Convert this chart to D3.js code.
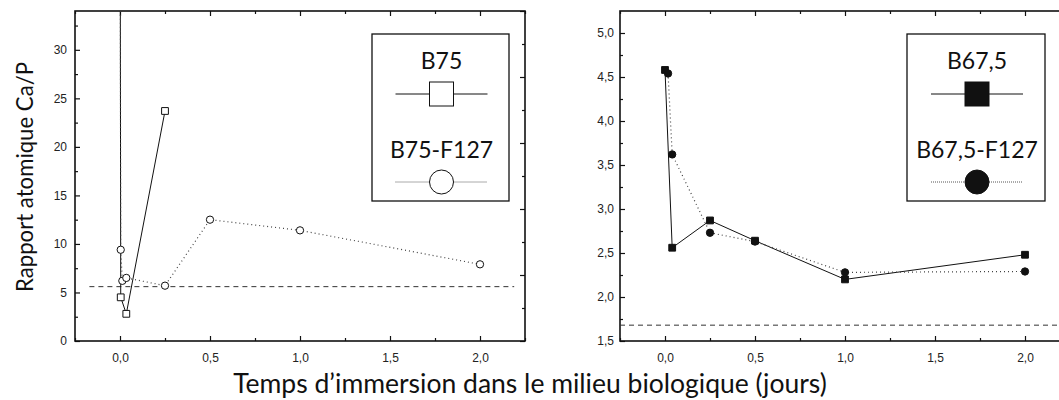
<!DOCTYPE html>
<html>
<head>
<meta charset="utf-8">
<script src="https://cdn.jsdelivr.net/npm/d3@7"></script>
<style>
  body { margin: 0; background: #fff; }
  svg { display: block; }
</style>
</head>
<body>
<svg id="chart" width="1059" height="400"></svg>
<script>
// ---- data (time in days, atomic Ca/P ratio) ----
const xTickValues = [0, 0.5, 1, 1.5, 2];
const xTickLabels = ["0,0", "0,5", "1,0", "1,5", "2,0"];

const leftYTickValues = [0, 5, 10, 15, 20, 25, 30];
const leftYTickLabels = ["0", "5", "10", "15", "20", "25", "30"];
const rightYTickValues = [1.5, 2, 2.5, 3, 3.5, 4, 4.5, 5];
const rightYTickLabels = ["1,5", "2,0", "2,5", "3,0", "3,5", "4,0", "4,5", "5,0"];

// B75 / B75-F127 (the t = 0 values lie far above the axis range)
const b75Time = [0, 0.004, 0.035, 0.25];
const b75Ratio = [60, 4.5, 2.8, 23.7];
const b75f127Time = [0, 0.004, 0.013, 0.035, 0.25, 0.5, 1, 2];
const b75f127Ratio = [60, 9.4, 6.2, 6.5, 5.7, 12.5, 11.4, 7.9];
const leftRefRatio = 5.6;
const leftRefSpan = [-0.17, 2.19];

// B67,5 / B67,5-F127
const b675Time = [0, 0.04, 0.25, 0.5, 1, 2];
const b675Ratio = [4.58, 2.56, 2.87, 2.64, 2.2, 2.48];
const b675f127Time = [0.017, 0.04, 0.25, 0.5, 1, 2];
const b675f127Ratio = [4.54, 3.62, 2.73, 2.63, 2.28, 2.29];
const rightRefRatio = 1.68;
const rightRefSpan = [-0.25, 2.25];

// ---- drawing ----
const svg = d3.select("#chart");
const INK = "#111";
const TICK_FONT = "'Liberation Sans', Arial, sans-serif";
const TITLE_FONT = "Lato, 'Open Sans', sans-serif";
const comma = v => v.replace(".", ",");

function zip(xs, ys) { return xs.map((x, i) => ({ x, y: ys[i] })); }

function panel(opts) {
  const x = d3.scaleLinear().domain([-0.25, 2.25]).range(opts.xRange);
  const y = d3.scaleLinear().domain(opts.yDomain).range([341, 11]);
  const g = svg.append("g");
  const clipId = "clip" + opts.id;
  svg.append("defs").append("clipPath").attr("id", clipId)
    .append("rect")
    .attr("x", opts.xRange[0]).attr("y", 11)
    .attr("width", opts.xRange[1] - opts.xRange[0]).attr("height", 330);

  const minorX = d3.range(-0.25, 2.26, 0.25).filter(v => !xTickValues.some(t => Math.abs(t - v) < 1e-6));

  // bottom axis
  const bottom = g.append("g").attr("transform", "translate(0,341)")
    .call(d3.axisBottom(x).tickValues(xTickValues)
      .tickFormat((d, i) => xTickLabels[i]).tickSize(-5).tickPadding(12));
  bottom.append("g").call(d3.axisBottom(x).tickValues(minorX).tickFormat("").tickSize(-3));
  // top axis
  const top = g.append("g").attr("transform", "translate(0,11)")
    .call(d3.axisTop(x).tickValues(xTickValues).tickFormat("").tickSize(-5));
  top.append("g").call(d3.axisTop(x).tickValues(minorX).tickFormat("").tickSize(-3));

  // left axis
  const left = g.append("g").attr("transform", `translate(${opts.xRange[0]},0)`)
    .call(d3.axisLeft(y).tickValues(opts.yTicks)
      .tickFormat((d, i) => opts.yLabels[i]).tickSize(-5).tickPadding(opts.yPad));
  left.append("g").call(d3.axisLeft(y).tickValues(opts.yMinor).tickFormat("").tickSize(-3));

  // right axis
  if (opts.rightTicks) {
    const right = g.append("g").attr("transform", `translate(${opts.xRange[1]},0)`)
      .call(d3.axisRight(y).tickValues(opts.rightTicks.major).tickFormat("").tickSize(-5));
    right.append("g").call(d3.axisRight(y).tickValues(opts.rightTicks.minor).tickFormat("").tickSize(-3));
  }

  g.selectAll(".domain").remove();
  g.selectAll(".tick line").attr("stroke", INK).attr("stroke-width", 1.2);
  g.selectAll(".tick text").attr("font-family", TICK_FONT).attr("font-size", 12).attr("fill", "#222");

  // frame
  g.append("rect")
    .attr("x", opts.xRange[0]).attr("y", 11)
    .attr("width", opts.xRange[1] - opts.xRange[0]).attr("height", 330)
    .attr("fill", "none").attr("stroke", INK).attr("stroke-width", 1.6);

  const plot = svg.append("g").attr("clip-path", `url(#${clipId})`);

  // reference level
  plot.append("line")
    .attr("x1", x(opts.ref.span[0])).attr("x2", x(opts.ref.span[1]))
    .attr("y1", y(opts.ref.value)).attr("y2", y(opts.ref.value))
    .attr("stroke", "#333").attr("stroke-width", 1).attr("stroke-dasharray", "5,4");

  const line = d3.line().x(d => x(d.x)).y(d => y(d.y));

  opts.series.forEach(s => {
    const pts = zip(s.t, s.v);
    plot.append("path").datum(pts).attr("d", line)
      .attr("fill", "none")
      .attr("stroke", s.dotted ? "#444" : INK)
      .attr("stroke-width", s.dotted ? 1.2 : 1)
      .attr("stroke-dasharray", s.dotted ? "1,3" : null);
  });
  opts.series.forEach(s => {
    const pts = zip(s.t, s.v).filter(d => d.y <= opts.yDomain[1]);
    const sym = d3.symbol().type(s.shape === "square" ? d3.symbolSquare : d3.symbolCircle)
      .size(s.shape === "square" ? 46 : 42);
    plot.selectAll(null).data(pts).join("path")
      .attr("transform", d => `translate(${x(d.x)},${y(d.y)})`)
      .attr("d", sym)
      .attr("fill", s.filled ? INK : "#fff")
      .attr("stroke", INK).attr("stroke-width", 1);
  });

  // legend
  const L = opts.legend;
  const lg = svg.append("g");
  lg.append("rect").attr("x", L.x0).attr("y", 34).attr("width", L.x1 - L.x0).attr("height", 167)
    .attr("fill", "#fff").attr("stroke", INK).attr("stroke-width", 1.3);
  const cx = (L.x0 + L.x1) / 2 + 1;
  L.items.forEach((it, i) => {
    const ty = i === 0 ? 69 : 158;
    const my = i === 0 ? 94 : 182;
    lg.append("text").attr("x", cx).attr("y", ty).attr("text-anchor", "middle")
      .attr("font-family", TITLE_FONT).attr("font-size", 23).attr("fill", INK).text(it.name);
    lg.append("line").attr("x1", cx - 46).attr("x2", cx + 46).attr("y1", my).attr("y2", my)
      .attr("stroke", it.dotted ? "#555" : INK).attr("stroke-width", 1)
      .attr("stroke-dasharray", it.dotted ? "1,1" : null);
    if (it.shape === "square") {
      lg.append("rect").attr("x", cx - 12).attr("y", my - 12).attr("width", 24).attr("height", 24)
        .attr("fill", it.filled ? INK : "#fff").attr("stroke", INK).attr("stroke-width", 1);
    } else {
      lg.append("circle").attr("cx", cx).attr("cy", my).attr("r", 12)
        .attr("fill", it.filled ? INK : "#fff").attr("stroke", INK).attr("stroke-width", 1);
    }
  });
}

panel({
  id: "L",
  xRange: [75, 525],
  yDomain: [0, 34],
  yTicks: leftYTickValues,
  yLabels: leftYTickLabels,
  yMinor: d3.range(2.5, 34, 5),
  yPad: 8,
  rightTicks: { major: d3.range(0, 34.1, 6.8), minor: d3.range(3.4, 34, 6.8) },
  ref: { value: leftRefRatio, span: leftRefSpan },
  series: [
    { t: b75Time, v: b75Ratio, shape: "square", filled: false, dotted: false },
    { t: b75f127Time, v: b75f127Ratio, shape: "circle", filled: false, dotted: true }
  ],
  legend: {
    x0: 372, x1: 509,
    items: [
      { name: "B75", shape: "square", filled: false, dotted: false },
      { name: "B75-F127", shape: "circle", filled: false, dotted: true }
    ]
  }
});

panel({
  id: "R",
  xRange: [620, 1070],
  yDomain: [1.5, 5.25],
  yTicks: rightYTickValues,
  yLabels: rightYTickLabels,
  yMinor: d3.range(1.75, 5.25, 0.5),
  yPad: 6,
  rightTicks: null,
  ref: { value: rightRefRatio, span: rightRefSpan },
  series: [
    { t: b675Time, v: b675Ratio, shape: "square", filled: true, dotted: false },
    { t: b675f127Time, v: b675f127Ratio, shape: "circle", filled: true, dotted: true }
  ],
  legend: {
    x0: 907, x1: 1045,
    items: [
      { name: "B67,5", shape: "square", filled: true, dotted: false },
      { name: "B67,5-F127", shape: "circle", filled: true, dotted: true }
    ]
  }
});

// axis titles, sized to their text run
function fit(sel, width) {
  const w = sel.node().getComputedTextLength();
  const fs = parseFloat(sel.attr("font-size"));
  sel.attr("font-size", (fs * width / w).toFixed(2));
}
const xt = svg.append("text").attr("x", 530).attr("y", 393).attr("text-anchor", "middle")
  .attr("font-family", TITLE_FONT).attr("font-size", 24).attr("fill", INK)
  .text("Temps d’immersion dans le milieu biologique (jours)");
fit(xt, 594);
const yt = svg.append("text").attr("transform", "translate(33,177) rotate(-90)")
  .attr("text-anchor", "middle")
  .attr("font-family", TITLE_FONT).attr("font-size", 24).attr("fill", INK)
  .text("Rapport atomique Ca/P");
fit(yt, 230);
</script>
</body>
</html>
